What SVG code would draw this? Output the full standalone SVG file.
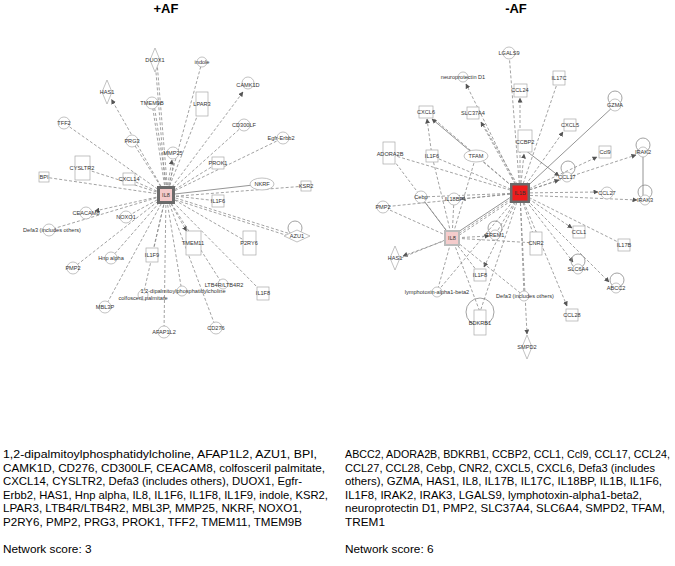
<svg xmlns="http://www.w3.org/2000/svg" width="675" height="566" viewBox="0 0 675 566">
<style>
.e{stroke:#8a8a8a;stroke-width:0.8;stroke-dasharray:3,2;fill:none}
.s{stroke:#7a7a7a;stroke-width:0.8;fill:none}
.a{marker-end:url(#ar)}
.n{fill:#fff;stroke:#a8a8a8;stroke-width:0.7}
.lp{fill:none;stroke:#8a8a8a;stroke-width:0.8}
.t{font-family:"Liberation Sans",Arial,sans-serif;font-size:5.6px;fill:#333;text-anchor:middle}
.h{font-family:"Liberation Sans",Arial,sans-serif;font-size:13px;font-weight:bold;fill:#000;text-anchor:middle}
.b{font-family:"Liberation Sans",Arial,sans-serif;font-size:11.8px;fill:#000}
.b1{font-family:"Liberation Sans",Arial,sans-serif;font-size:10.5px;fill:#000}
</style>
<defs>
<marker id="ar" viewBox="0 0 10 10" refX="9" refY="5" markerWidth="5" markerHeight="5" markerUnits="userSpaceOnUse" orient="auto"><path d="M0,0 L10,5 L0,10 z" fill="#555"/></marker>
</defs>
<rect width="675" height="566" fill="#fff"/>
<text class="h" x="166" y="13">+AF</text>
<text class="h" x="516" y="13">-AF</text>

<g id="connectors">
<!-- left network from IL8 (166,195) -->
<line class="e" x1="166" y1="195" x2="155" y2="60"/>
<line class="e" x1="168" y1="195" x2="157" y2="62"/>
<line class="e" x1="166" y1="195" x2="202" y2="62"/>
<line class="e a" x1="166" y1="195" x2="111.5" y2="99.5"/>
<line class="e a" x1="166" y1="195" x2="243" y2="92"/>
<line class="e" x1="166" y1="195" x2="152" y2="103"/>
<line class="e" x1="168" y1="195" x2="154" y2="104"/>
<line class="e" x1="166" y1="195" x2="202" y2="104"/>
<line class="e" x1="166" y1="195" x2="64" y2="123"/>
<line class="e" x1="166" y1="195" x2="244" y2="125"/>
<line class="e" x1="166" y1="195" x2="132" y2="141"/>
<line class="e" x1="166" y1="195" x2="283" y2="138"/>
<line class="e a" x1="166" y1="195" x2="172" y2="160"/>
<line class="e" x1="168" y1="195" x2="174" y2="160"/>
<line class="e" x1="166" y1="195" x2="218" y2="163"/>
<line class="e" x1="166" y1="195" x2="82" y2="168"/>
<line class="e" x1="166" y1="195" x2="129" y2="179"/>
<line class="e" x1="166" y1="195" x2="44" y2="177"/>
<line class="s" x1="166" y1="195" x2="262" y2="184"/>
<line class="e" x1="166" y1="197" x2="306" y2="186"/>
<line class="e" x1="166" y1="195" x2="218" y2="201"/>
<line class="e" x1="166" y1="195" x2="297" y2="236"/>
<line class="e" x1="166" y1="197" x2="295" y2="238"/>
<line class="e a" x1="166" y1="195" x2="95" y2="211"/>
<line class="e" x1="166" y1="195" x2="126" y2="217"/>
<line class="e" x1="166" y1="195" x2="49" y2="230"/>
<line class="e a" x1="166" y1="195" x2="186.5" y2="231"/>
<line class="e" x1="166" y1="195" x2="249" y2="243"/>
<line class="e" x1="166" y1="195" x2="152" y2="255"/>
<line class="e" x1="166" y1="195" x2="111" y2="258"/>
<line class="e" x1="166" y1="195" x2="73" y2="268"/>
<line class="e" x1="166" y1="195" x2="143" y2="296"/>
<line class="e" x1="166" y1="195" x2="182" y2="292"/>
<line class="e" x1="166" y1="195" x2="223" y2="285"/>
<line class="e" x1="166" y1="195" x2="263" y2="293"/>
<line class="e" x1="166" y1="195" x2="105" y2="307"/>
<line class="e" x1="166" y1="195" x2="164" y2="332"/>
<line class="e" x1="166" y1="195" x2="216" y2="328"/>

<!-- right network from IL1B (520,193) -->
<line class="e" x1="520" y1="193" x2="509" y2="53"/>
<line class="e a" x1="520" y1="193" x2="466" y2="84"/>
<line class="e a" x1="520" y1="193" x2="481" y2="122"/>
<line class="e" x1="522" y1="193" x2="483" y2="124"/>
<line class="e a" x1="520" y1="193" x2="520" y2="98"/>
<line class="e" x1="520" y1="193" x2="559" y2="78"/>
<line class="s" x1="520" y1="193" x2="615" y2="105"/>
<line class="e a" x1="520" y1="193" x2="563" y2="132"/>
<line class="e a" x1="520" y1="193" x2="524" y2="154"/>
<line class="s a" x1="525" y1="150" x2="559" y2="176"/>
<line class="e a" x1="520" y1="193" x2="597" y2="157"/>
<line class="e a" x1="520" y1="193" x2="636" y2="155"/>
<line class="e a" x1="520" y1="193" x2="559" y2="180"/>
<line class="e a" x1="520" y1="193" x2="598" y2="192"/>
<line class="e a" x1="520" y1="195" x2="637" y2="200"/>
<line class="s" x1="643" y1="155" x2="643" y2="198"/>
<line class="e a" x1="520" y1="193" x2="572" y2="228"/>
<line class="e" x1="520" y1="193" x2="624" y2="245"/>
<line class="e a" x1="520" y1="193" x2="573" y2="262"/>
<line class="e a" x1="520" y1="193" x2="609" y2="282"/>
<line class="e" x1="520" y1="193" x2="536" y2="243"/>
<line class="e a" x1="520" y1="193" x2="567" y2="306"/>
<line class="e a" x1="520" y1="193" x2="527" y2="334"/>
<line class="e" x1="520" y1="193" x2="524" y2="296"/>
<line class="e a" x1="520" y1="193" x2="484" y2="267"/>
<line class="e" x1="520" y1="193" x2="480" y2="312"/>
<line class="e" x1="520" y1="193" x2="437" y2="292"/>
<line class="e" x1="520" y1="193" x2="495" y2="235"/>
<line class="e" x1="520" y1="193" x2="476" y2="156"/>
<line class="e" x1="520" y1="193" x2="432" y2="156"/>
<line class="e" x1="520" y1="193" x2="389" y2="154"/>
<line class="e" x1="520" y1="193" x2="426" y2="112"/>
<line class="e" x1="520" y1="193" x2="421" y2="197"/>
<line class="e a" x1="520" y1="193" x2="461" y2="199"/>
<line class="e" x1="520" y1="193" x2="383" y2="207"/>
<line class="e" x1="520" y1="193" x2="452" y2="238"/>
<line class="e" x1="520" y1="195" x2="452" y2="240"/>
<line class="s" x1="520" y1="191" x2="452" y2="236"/>
<line class="s a" x1="476" y1="156" x2="432" y2="119"/>
<line class="e a" x1="432" y1="156" x2="427" y2="119"/>
<!-- from IL8 (452,238) -->
<line class="s" x1="452" y1="238" x2="421" y2="197"/>
<line class="e" x1="452" y1="238" x2="383" y2="207"/>
<line class="e a" x1="452" y1="238" x2="403" y2="256"/>
<line class="e" x1="450" y1="238" x2="401" y2="258"/>
<line class="e" x1="452" y1="238" x2="432" y2="156"/>
<line class="e" x1="452" y1="238" x2="389" y2="154"/>
<line class="e" x1="452" y1="238" x2="454" y2="199"/>
<line class="e" x1="452" y1="238" x2="476" y2="156"/>
<line class="e a" x1="452" y1="238" x2="489" y2="236"/>
<line class="e" x1="452" y1="238" x2="480" y2="275"/>
<line class="e" x1="452" y1="238" x2="437" y2="292"/>
<line class="e" x1="452" y1="238" x2="480" y2="312"/>
<line class="e" x1="452" y1="238" x2="524" y2="296"/>
<line class="e" x1="452" y1="238" x2="536" y2="243"/>
</g>

<!-- ===== left nodes ===== -->
<g id="L_IL8"><rect x="157" y="186" width="18" height="18" fill="#6a6a6a"/><rect x="160" y="189" width="12" height="12" fill="#f5c9c9"/><text class="t" x="166" y="197" fill="#b55">IL8</text></g>
<g id="L_DUOX1"><path class="n" d="M155,48 L160,60 L155,72 L150,60 Z"/><text class="t" x="155" y="62">DUOX1</text></g>
<g id="L_indole"><circle class="n" cx="202" cy="62" r="5"/><text class="t" x="202" y="64">indole</text></g>
<g id="L_HAS1"><path class="n" d="M107,80 L112,92 L107,104 L102,92 Z"/><text class="t" x="107" y="94">HAS1</text></g>
<g id="L_CAMK1D"><circle class="n" cx="248" cy="83" r="6"/><text class="t" x="248" y="87">CAMK1D</text></g>
<g id="L_TMEM9B"><circle class="n" cx="152" cy="103" r="6"/><text class="t" x="152" y="105">TMEM9B</text></g>
<g id="L_LPAR3"><rect class="n" x="196" y="92" width="12" height="24"/><text class="t" x="202" y="106">LPAR3</text></g>
<g id="L_TFF2"><circle class="n" cx="64" cy="123" r="6"/><text class="t" x="64" y="125">TFF2</text></g>
<g id="L_CD300LF"><circle class="n" cx="244" cy="125" r="6"/><text class="t" x="244" y="127">CD300LF</text></g>
<g id="L_PRG3"><circle class="n" cx="132" cy="141" r="6"/><text class="t" x="132" y="143">PRG3</text></g>
<g id="L_Egfr"><circle class="n" cx="283" cy="138" r="6"/><text class="t" x="281" y="140">Egfr-Erbb2</text></g>
<g id="L_MMP25"><circle class="n" cx="173" cy="153" r="6"/><text class="t" x="173" y="155">MMP25</text></g>
<g id="L_PROK1"><rect class="n" x="212" y="157" width="12" height="12"/><text class="t" x="218" y="165">PROK1</text></g>
<g id="L_CYSLTR2"><rect class="n" x="75" y="156" width="15" height="24"/><text class="t" x="82" y="170">CYSLTR2</text></g>
<g id="L_CXCL14"><rect class="n" x="123" y="173" width="12" height="12"/><text class="t" x="129" y="181">CXCL14</text></g>
<g id="L_BPI"><rect class="n" x="39" y="172" width="10" height="10"/><text class="t" x="44" y="179">BPI</text></g>
<g id="L_NKRF"><ellipse class="n" cx="262" cy="184" rx="12" ry="6"/><text class="t" x="262" y="186">NKRF</text></g>
<g id="L_KSR2"><rect class="n" x="301" y="181" width="10" height="10"/><text class="t" x="306" y="188">KSR2</text></g>
<g id="L_IL1F6"><rect class="n" x="212" y="195" width="12" height="12"/><text class="t" x="218" y="203">IL1F6</text></g>
<g id="L_AZU1"><circle class="lp" cx="295" cy="228" r="7"/><path class="n" d="M284,236 L297,230 L310,236 L297,242 Z"/><text class="t" x="297" y="238">AZU1</text></g>
<g id="L_CEACAM8"><circle class="n" cx="86" cy="213" r="6"/><text class="t" x="86" y="215">CEACAM8</text></g>
<g id="L_NOXO1"><circle class="n" cx="126" cy="217" r="6"/><text class="t" x="126" y="219">NOXO1</text></g>
<g id="L_Defa3"><circle class="n" cx="49" cy="230" r="6"/><text class="t" x="52" y="232">Defa3 (includes others)</text></g>
<g id="L_TMEM11"><rect class="n" x="186" y="231" width="15" height="24"/><text class="t" x="193" y="245">TMEM11</text></g>
<g id="L_P2RY6"><rect class="n" x="243" y="231" width="13" height="24"/><text class="t" x="249" y="245">P2RY6</text></g>
<g id="L_IL1F9"><rect class="n" x="146" y="248" width="12" height="14"/><text class="t" x="152" y="257">IL1F9</text></g>
<g id="L_Hnp"><circle class="n" cx="111" cy="258" r="6"/><text class="t" x="111" y="260">Hnp alpha</text></g>
<g id="L_PMP2"><circle class="n" cx="73" cy="268" r="6"/><text class="t" x="73" y="270">PMP2</text></g>
<g id="L_colfos"><circle class="n" cx="143" cy="295" r="5"/><text class="t" x="143" y="300">colfosceril palmitate</text></g>
<g id="L_dipalm"><circle class="n" cx="182" cy="291" r="5"/><text class="t" x="183" y="293">1,2-dipalmitoylphosphatidylcholine</text></g>
<g id="L_LTB4R"><circle class="n" cx="223" cy="284" r="5"/><text class="t" x="224" y="286.5">LTB4R/LTB4R2</text></g>
<g id="L_IL1F8"><rect class="n" x="257" y="287" width="12" height="13"/><text class="t" x="263" y="295">IL1F8</text></g>
<g id="L_MBL3P"><circle class="n" cx="105" cy="307" r="6"/><text class="t" x="105" y="309">MBL3P</text></g>
<g id="L_AFAP1L2"><circle class="n" cx="164" cy="332" r="6"/><text class="t" x="164" y="334">AFAP1L2</text></g>
<g id="L_CD276"><circle class="n" cx="216" cy="328" r="6"/><text class="t" x="216" y="330">CD276</text></g>

<!-- ===== right nodes ===== -->
<g id="R_IL1B"><rect x="510" y="183" width="20" height="20" fill="#6a6a6a"/><rect x="512.5" y="185.5" width="15" height="15" fill="#ee1c1c"/><text class="t" x="520" y="195">IL1B</text></g>
<g id="R_IL8"><rect x="444" y="230" width="16" height="16" fill="#bbb"/><rect x="446" y="232" width="12" height="12" fill="#f5cccc"/><text class="t" x="452" y="240" fill="#b55">IL8</text></g>
<g id="R_LGALS9"><circle class="n" cx="509" cy="53" r="6"/><text class="t" x="509" y="55">LGALS9</text></g>
<g id="R_neuro"><circle class="n" cx="463" cy="77" r="5"/><text class="t" x="463" y="79">neuroprotectin D1</text></g>
<g id="R_IL17C"><rect class="n" x="553" y="71" width="12" height="14"/><text class="t" x="559" y="80">IL17C</text></g>
<g id="R_CCL24"><rect class="n" x="514" y="84" width="13" height="13"/><text class="t" x="520" y="92">CCL24</text></g>
<g id="R_GZMA"><circle class="lp" cx="615" cy="98" r="7"/><circle class="n" cx="615" cy="105" r="6"/><text class="t" x="615" y="107">GZMA</text></g>
<g id="R_CXCL6"><rect class="n" x="419" y="106" width="14" height="12"/><text class="t" x="426" y="114">CXCL6</text></g>
<g id="R_SLC37A4"><rect class="n" x="467" y="107" width="12" height="12"/><text class="t" x="473" y="115">SLC37A4</text></g>
<g id="R_CXCL5"><rect class="n" x="564" y="119" width="12" height="12"/><text class="t" x="570" y="127">CXCL5</text></g>
<g id="R_CCBP2"><rect class="n" x="518" y="130" width="14" height="22"/><text class="t" x="525" y="144">CCBP2</text></g>
<g id="R_Ccl9"><rect class="n" x="599" y="146" width="12" height="12"/><text class="t" x="605" y="154">Ccl9</text></g>
<g id="R_IRAK2"><circle class="lp" cx="643" cy="145" r="7"/><circle class="n" cx="643" cy="152" r="5"/><text class="t" x="643" y="154">IRAK2</text></g>
<g id="R_ADORA2B"><rect class="n" x="383" y="142" width="12" height="22"/><text class="t" x="390" y="156">ADORA2B</text></g>
<g id="R_IL1F6"><rect class="n" x="426" y="150" width="12" height="12"/><text class="t" x="432" y="158">IL1F6</text></g>
<g id="R_TFAM"><ellipse class="n" cx="476" cy="156" rx="12" ry="6"/><text class="t" x="476" y="158">TFAM</text></g>
<g id="R_CCL17"><circle class="lp" cx="568" cy="168" r="7"/><circle class="n" cx="567" cy="177" r="5"/><text class="t" x="567" y="179">CCL17</text></g>
<g id="R_CCL27"><circle class="n" cx="607" cy="193" r="6"/><text class="t" x="607" y="195">CCL27</text></g>
<g id="R_IRAK3"><circle class="lp" cx="645" cy="192" r="7"/><circle class="n" cx="645" cy="200" r="5"/><text class="t" x="645" y="202">IRAK3</text></g>
<g id="R_Cebp"><circle class="n" cx="421" cy="197" r="6"/><text class="t" x="421" y="199">Cebp</text></g>
<g id="R_IL18BP"><circle class="n" cx="454" cy="199" r="6"/><text class="t" x="454" y="201">IL18BP</text></g>
<g id="R_PMP2"><circle class="n" cx="383" cy="207" r="6"/><text class="t" x="383" y="209">PMP2</text></g>
<g id="R_TREM1"><circle class="lp" cx="495" cy="228" r="7"/><circle class="n" cx="495" cy="235" r="5"/><text class="t" x="495" y="237">TREM1</text></g>
<g id="R_CNR2"><rect class="n" x="530" y="232" width="12" height="23"/><text class="t" x="536" y="245">CNR2</text></g>
<g id="R_CCL1"><rect class="n" x="573" y="226" width="12" height="12"/><text class="t" x="579" y="234">CCL1</text></g>
<g id="R_IL17B"><rect class="n" x="618" y="239" width="12" height="12"/><text class="t" x="624" y="247">IL17B</text></g>
<g id="R_HAS1"><path class="n" d="M395,246 L400,258 L395,270 L390,258 Z"/><text class="t" x="395" y="260">HAS1</text></g>
<g id="R_SLC6A4"><circle class="lp" cx="578" cy="261" r="7"/><circle class="n" cx="578" cy="269" r="5"/><text class="t" x="578" y="271">SLC6A4</text></g>
<g id="R_IL1F8"><rect class="n" x="474" y="269" width="12" height="12"/><text class="t" x="480" y="277">IL1F8</text></g>
<g id="R_ABCC2"><circle class="lp" cx="617" cy="280" r="7"/><circle class="n" cx="616" cy="288" r="5"/><text class="t" x="616" y="290">ABCC2</text></g>
<g id="R_lympho"><circle class="n" cx="437" cy="292" r="5"/><text class="t" x="437" y="294">lymphotoxin-alpha1-beta2</text></g>
<g id="R_Defa3"><circle class="n" cx="524" cy="296" r="5"/><text class="t" x="525" y="298">Defa3 (includes others)</text></g>
<g id="R_BDKRB1"><circle class="lp" cx="480" cy="312" r="14"/><rect class="n" x="474" y="310" width="12" height="25"/><text class="t" x="480" y="325">BDKRB1</text></g>
<g id="R_CCL28"><rect class="n" x="566" y="309" width="12" height="12"/><text class="t" x="572" y="317">CCL28</text></g>
<g id="R_SMPD2"><path class="n" d="M527,335 L532,347 L527,359 L522,347 Z"/><text class="t" x="527" y="349">SMPD2</text></g>

<!-- text blocks -->
<g id="caption_left">
<text class="b" x="3" y="458" textLength="314" lengthAdjust="spacingAndGlyphs">1,2-dipalmitoylphosphatidylcholine, AFAP1L2, AZU1, BPI,</text>
<text class="b" x="3" y="471.5" textLength="322" lengthAdjust="spacingAndGlyphs">CAMK1D, CD276, CD300LF, CEACAM8, colfosceril palmitate,</text>
<text class="b" x="3" y="485" textLength="299" lengthAdjust="spacingAndGlyphs">CXCL14, CYSLTR2, Defa3 (includes others), DUOX1, Egfr-</text>
<text class="b" x="3" y="498.5" textLength="325" lengthAdjust="spacingAndGlyphs">Erbb2, HAS1, Hnp alpha, IL8, IL1F6, IL1F8, IL1F9, indole, KSR2,</text>
<text class="b" x="3" y="512" textLength="299" lengthAdjust="spacingAndGlyphs">LPAR3, LTB4R/LTB4R2, MBL3P, MMP25, NKRF, NOXO1,</text>
<text class="b" x="3" y="525.5" textLength="299" lengthAdjust="spacingAndGlyphs">P2RY6, PMP2, PRG3, PROK1, TFF2, TMEM11, TMEM9B</text>
<text class="b" x="3" y="553">Network score: 3</text>
</g>
<g id="caption_right">
<text class="b1" x="345" y="458" textLength="325" lengthAdjust="spacingAndGlyphs">ABCC2, ADORA2B, BDKRB1, CCBP2, CCL1, Ccl9, CCL17, CCL24,</text>
<text class="b" x="345" y="471.5" textLength="310" lengthAdjust="spacingAndGlyphs">CCL27, CCL28, Cebp, CNR2, CXCL5, CXCL6, Defa3 (includes</text>
<text class="b" x="345" y="485" textLength="317" lengthAdjust="spacingAndGlyphs">others), GZMA, HAS1, IL8, IL17B, IL17C, IL18BP, IL1B, IL1F6,</text>
<text class="b" x="345" y="498.5" textLength="297" lengthAdjust="spacingAndGlyphs">IL1F8, IRAK2, IRAK3, LGALS9, lymphotoxin-alpha1-beta2,</text>
<text class="b" x="345" y="512" textLength="320" lengthAdjust="spacingAndGlyphs">neuroprotectin D1, PMP2, SLC37A4, SLC6A4, SMPD2, TFAM,</text>
<text class="b" x="345" y="525.5">TREM1</text>
<text class="b" x="345" y="553">Network score: 6</text>
</g>
</svg>
